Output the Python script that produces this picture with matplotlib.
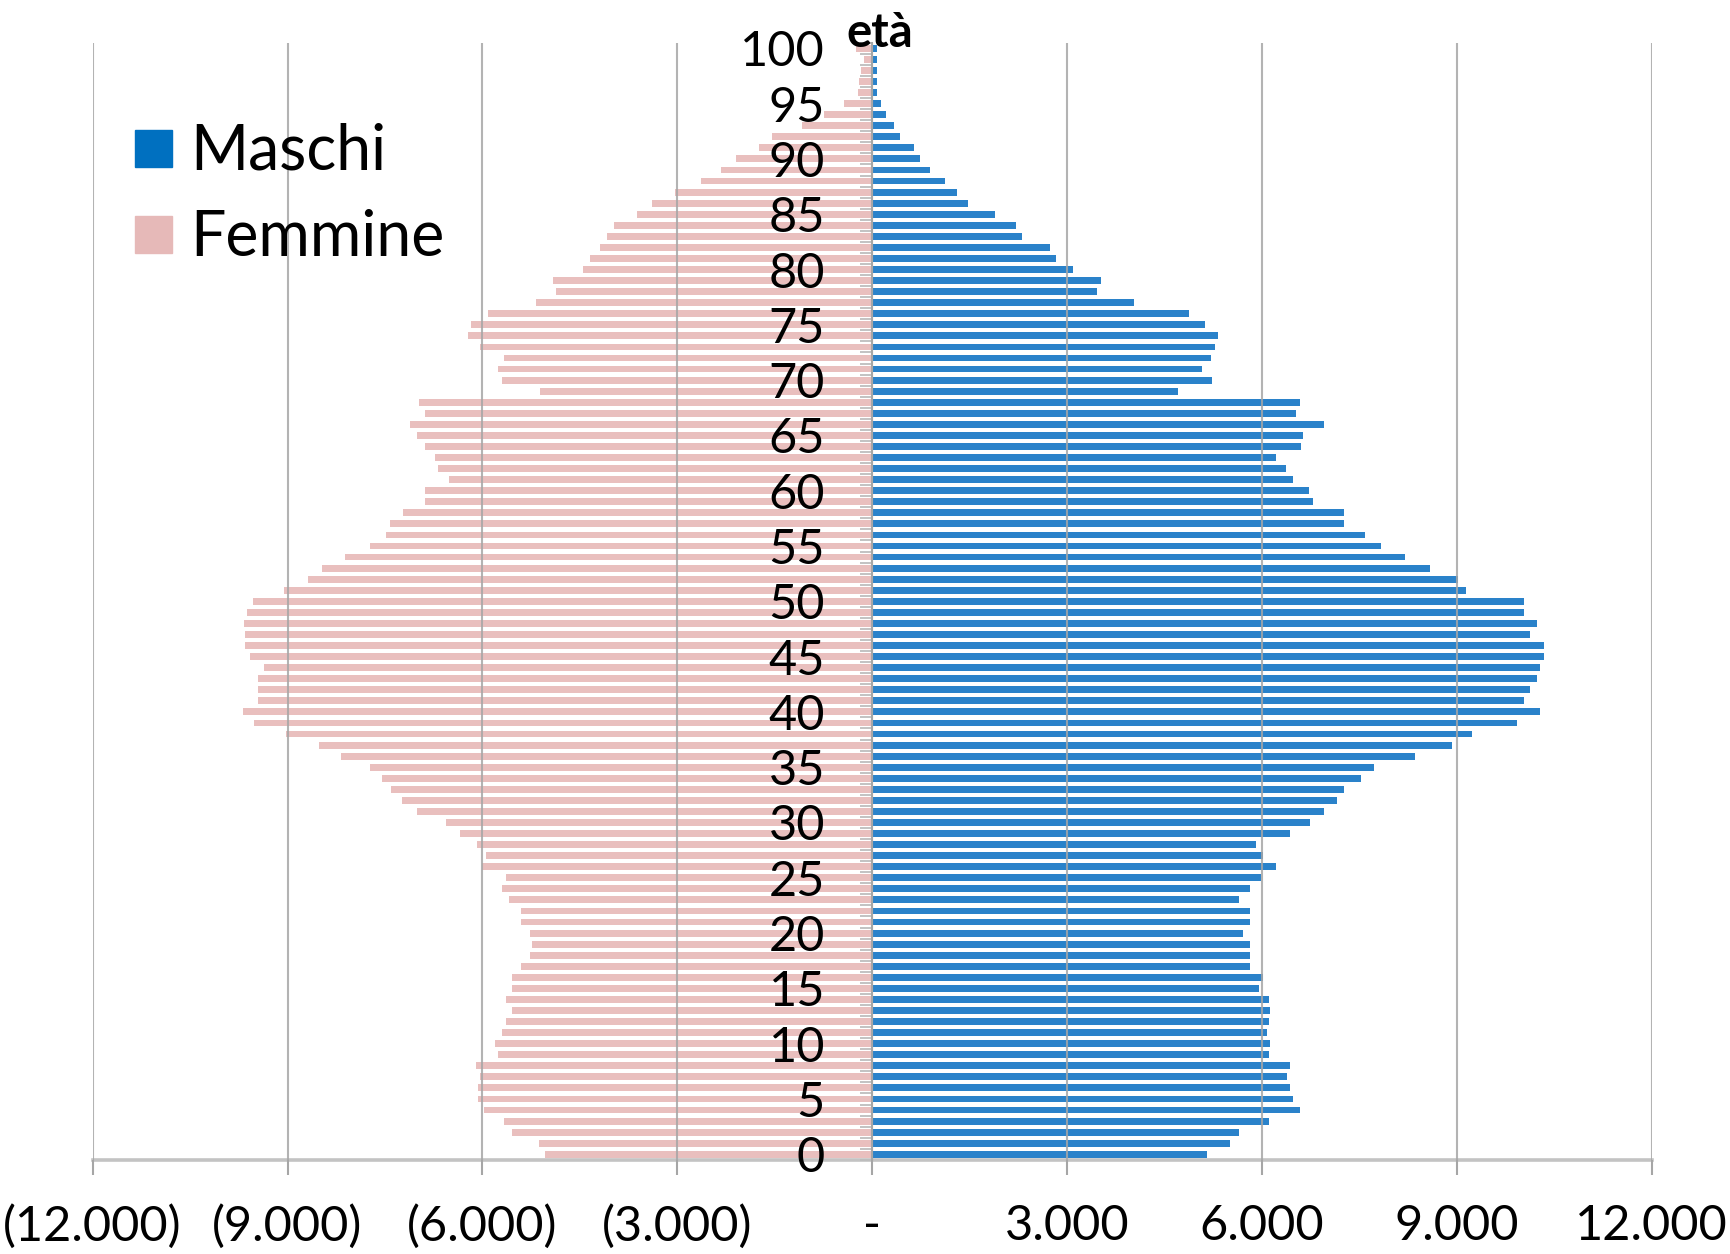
import numpy as np
import matplotlib
matplotlib.use("Agg")
import matplotlib.pyplot as plt
from matplotlib.patches import Rectangle
from matplotlib.ticker import FixedLocator

plt.rcParams['font.family'] = ['Lato', 'DejaVu Sans']

# ---- data ----
ages = list(range(0, 101))
maschi = [5160, 5500, 5650, 6110, 6590, 6470, 6430, 6380, 6430, 6110,
          6130, 6070, 6110, 6120, 6110, 5950, 6010, 5820, 5820, 5820,
          5700, 5820, 5810, 5650, 5820, 5980, 6220, 6010, 5910, 6430,
          6740, 6960, 7150, 7260, 7520, 7730, 8350, 8920, 9240, 9930,
          10280, 10030, 10120, 10240, 10280, 10340, 10340, 10120, 10230, 10030,
          10030, 9140, 9020, 8580, 8200, 7830, 7580, 7260, 7260, 6790,
          6730, 6480, 6370, 6210, 6600, 6630, 6960, 6520, 6590, 4710,
          5230, 5070, 5210, 5280, 5320, 5120, 4880, 4030, 3460, 3520,
          3090, 2830, 2740, 2300, 2210, 1890, 1475, 1310, 1120, 890,
          740, 640, 430, 330, 220, 130, 80, 80, 70, 80,
          70]
femmine = [5030, 5130, 5550, 5660, 5980, 6070, 6070, 6030, 6100, 5760,
           5810, 5700, 5630, 5550, 5630, 5550, 5550, 5400, 5270, 5240,
           5270, 5400, 5400, 5590, 5700, 5630, 6000, 5950, 6090, 6350,
           6560, 7000, 7240, 7400, 7550, 7730, 8170, 8510, 9030, 9520,
           9690, 9450, 9450, 9450, 9360, 9570, 9660, 9660, 9670, 9620,
           9530, 9050, 8690, 8470, 8110, 7730, 7480, 7420, 7220, 6890,
           6890, 6520, 6690, 6730, 6890, 7010, 7110, 6880, 6970, 5120,
           5700, 5760, 5660, 6030, 6220, 6180, 5910, 5180, 4870, 4910,
           4450, 4350, 4190, 4080, 3980, 3620, 3390, 3030, 2630, 2320,
           2100, 1745, 1550, 1080, 745, 440, 215, 200, 180, 130,
           250]
x_ticks = [-12000, -9000, -6000, -3000, 0, 3000, 6000, 9000, 12000]
x_labels = ["(12.000)", "(9.000)", "(6.000)", "(3.000)", "-",
            "3.000", "6.000", "9.000", "12.000"]
y_ticks = list(range(0, 101, 5))
series_names = ["Maschi", "Femmine"]

# ---- style ----
c_m_bar = "#2A82CA"
c_f_bar = "#E9BFBE"
c_m_leg = "#0070C0"
c_f_leg = "#E6B9B8"
grid_c = "#A6A6A6"

W, H = 1731, 1254
fig = plt.figure(figsize=(W / 100, H / 100), dpi=100)
ax = fig.add_axes([92.6 / W, 1 - 1159.8 / H, (1651.8 - 92.6) / W, (1159.8 - 42.8) / H])

ax.barh(ages, maschi, height=0.62, color=c_m_bar, zorder=2)
ax.barh(ages, -np.array(femmine), height=0.62, color=c_f_bar, zorder=2)
ax.set_axisbelow(False)

ax.set_xlim(-12000, 12000)
ax.set_ylim(-0.5, 100.5)

ax.xaxis.set_major_locator(FixedLocator(x_ticks))
ax.set_xticklabels(x_labels)
ax.grid(axis='x', color=grid_c, lw=1.5, alpha=0.85)
ax.tick_params(axis='x', length=11, width=1.5, color=grid_c, labelsize=35, pad=21)

for s in ['top', 'right']:
    ax.spines[s].set_visible(False)
ax.spines['bottom'].set_color('#C3C3C3')
ax.spines['bottom'].set_linewidth(2.6)
ax.spines['left'].set_position(('data', 0))
ax.spines['left'].set_color(grid_c)
ax.spines['left'].set_linewidth(1.5)
ax.spines['left'].set_zorder(4)

ax.yaxis.set_major_locator(FixedLocator(y_ticks))
ax.yaxis.set_minor_locator(FixedLocator(np.arange(-0.5, 101, 1)))
ax.tick_params(axis='y', which='major', length=0, labelsize=35, pad=34)
ax.tick_params(axis='y', which='minor', length=9, width=1.3, color="#BDBDBD")

# legend (manual, upper left)
for (name, col, yc) in [(series_names[0], c_m_leg, 149), (series_names[1], c_f_leg, 235)]:
    fig.add_artist(Rectangle((135 / W, 1 - (yc + 18) / H), 37 / W, 37 / H,
                             transform=fig.transFigure, color=col))
    fig.text(190 / W, 1 - (yc + 3) / H, name, va='center', ha='left', fontsize=45)

fig.text(880 / W, 1 - 33 / H, "età", ha='center', va='center', fontsize=34, fontweight='bold')

fig.savefig("out.png", dpi=100)
